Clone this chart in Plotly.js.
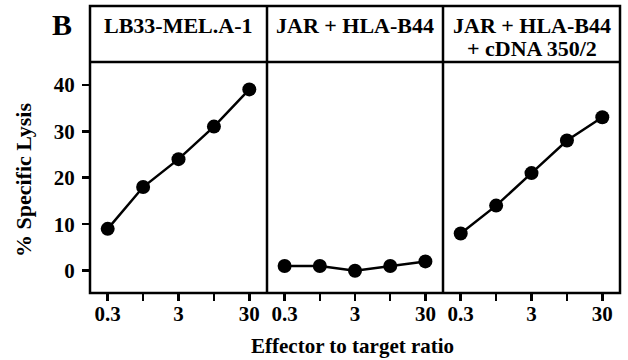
<!DOCTYPE html>
<html>
<head>
<meta charset="utf-8">
<script src="https://cdn.plot.ly/plotly-3.0.1.min.js"></script>
<style>html,body{margin:0;padding:0;background:#fff;}#chart{width:628px;height:360px;}</style>
</head>
<body>
<div id="chart"></div>
<script>
// Data
const ratios = [0.3, 0.95, 3, 9.5, 30];
const tickLabels = ["0.3", "", "3", "", "30"];
const panelTitleLines = [["LB33-MEL.A-1"], ["JAR + HLA-B44"], ["JAR + HLA-B44", "+ cDNA 350/2"]];
const lysisLB33 = [9, 18, 24, 31, 39];
const lysisJAR = [1, 1, 0, 1, 2];
const lysisJARcDNA = [8, 14, 21, 28, 33];
const yTicks = [0, 10, 20, 30, 40];

const font = "Liberation Serif, Times New Roman, serif";
const series = [lysisLB33, lysisJAR, lysisJARcDNA];
const axisIds = ["x", "x2", "x3"];
const traces = series.map((s, i) => ({
  x: ratios, y: s, xaxis: axisIds[i], yaxis: "y",
  mode: "lines+markers", type: "scatter",
  line: {color: "#000", width: 2.5},
  marker: {color: "#000", size: 14},
  showlegend: false, cliponaxis: false
}));

const d1 = (267 - 90) / 530, d2 = (443 - 90) / 530;
const domains = [[0, d1], [d1, d2], [d2, 1]];
const lr = Math.log10(0.3) - 0.25, hr = Math.log10(30) + 0.25;
const tf = {family: font, size: 21, color: "#000", weight: "bold"};
function xax(dom) {
  return {
    type: "log", domain: dom, range: [lr, hr], anchor: "y",
    tickvals: ratios, ticktext: tickLabels, ticks: "outside", ticklen: 7, tickwidth: 2.5,
    tickcolor: "#000", showgrid: false, zeroline: false, showline: false,
    tickfont: tf, ticklabelstandoff: -5
  };
}
const py = px => (293 - px) / 231;
const topY = py(6);
const ls = {color: "#000", width: 2.5};
const shapes = [
  {type: "rect", xref: "paper", yref: "paper", x0: 0, x1: 1, y0: 0, y1: topY, line: ls},
  {type: "line", xref: "paper", yref: "paper", x0: 0, x1: 1, y0: 1, y1: 1, line: ls},
  {type: "line", xref: "paper", yref: "paper", x0: d1, x1: d1, y0: 0, y1: topY, line: ls},
  {type: "line", xref: "paper", yref: "paper", x0: d2, x1: d2, y0: 0, y1: topY, line: ls}
];
const hf = {family: font, size: 22, color: "#000", weight: "bold"};
const annotations = [];
panelTitleLines.forEach((lines, i) => {
  lines.forEach((t, j) => {
    annotations.push({
      text: t, xref: "paper", yref: "paper",
      x: (domains[i][0] + domains[i][1]) / 2, y: py(j === 0 ? 26 : 48),
      xanchor: "center", yanchor: "middle", showarrow: false, font: hf
    });
  });
});
annotations.push({text: "B", xref: "paper", yref: "paper", x: (62 - 90) / 530, y: py(24),
  xanchor: "center", yanchor: "middle", showarrow: false,
  font: {family: font, size: 30, color: "#000", weight: "bold"}});
annotations.push({text: "% Specific Lysis", xref: "paper", yref: "paper", x: (23 - 90) / 530, y: py(180),
  xanchor: "center", yanchor: "middle", textangle: -90, showarrow: false,
  font: {family: font, size: 22, color: "#000", weight: "bold"}});
annotations.push({text: "Effector to target ratio", xref: "paper", yref: "paper", x: (352 - 90) / 530, y: py(346),
  xanchor: "center", yanchor: "middle", showarrow: false,
  font: {family: font, size: 21, color: "#000", weight: "bold"}});

const layout = {
  width: 628, height: 360,
  margin: {l: 90, r: 8, t: 62, b: 67},
  paper_bgcolor: "#fff", plot_bgcolor: "#fff",
  xaxis: xax(domains[0]), xaxis2: xax(domains[1]), xaxis3: xax(domains[2]),
  yaxis: {
    range: [-4.8, 44.9], tickvals: yTicks, ticks: "outside", ticklen: 7, tickwidth: 2.5,
    tickcolor: "#000", showgrid: false, zeroline: false, showline: false,
    tickfont: tf, ticklabelstandoff: 3
  },
  shapes: shapes,
  annotations: annotations
};
Plotly.newPlot("chart", traces, layout, {displayModeBar: false, staticPlot: true});
</script>
</body>
</html>
